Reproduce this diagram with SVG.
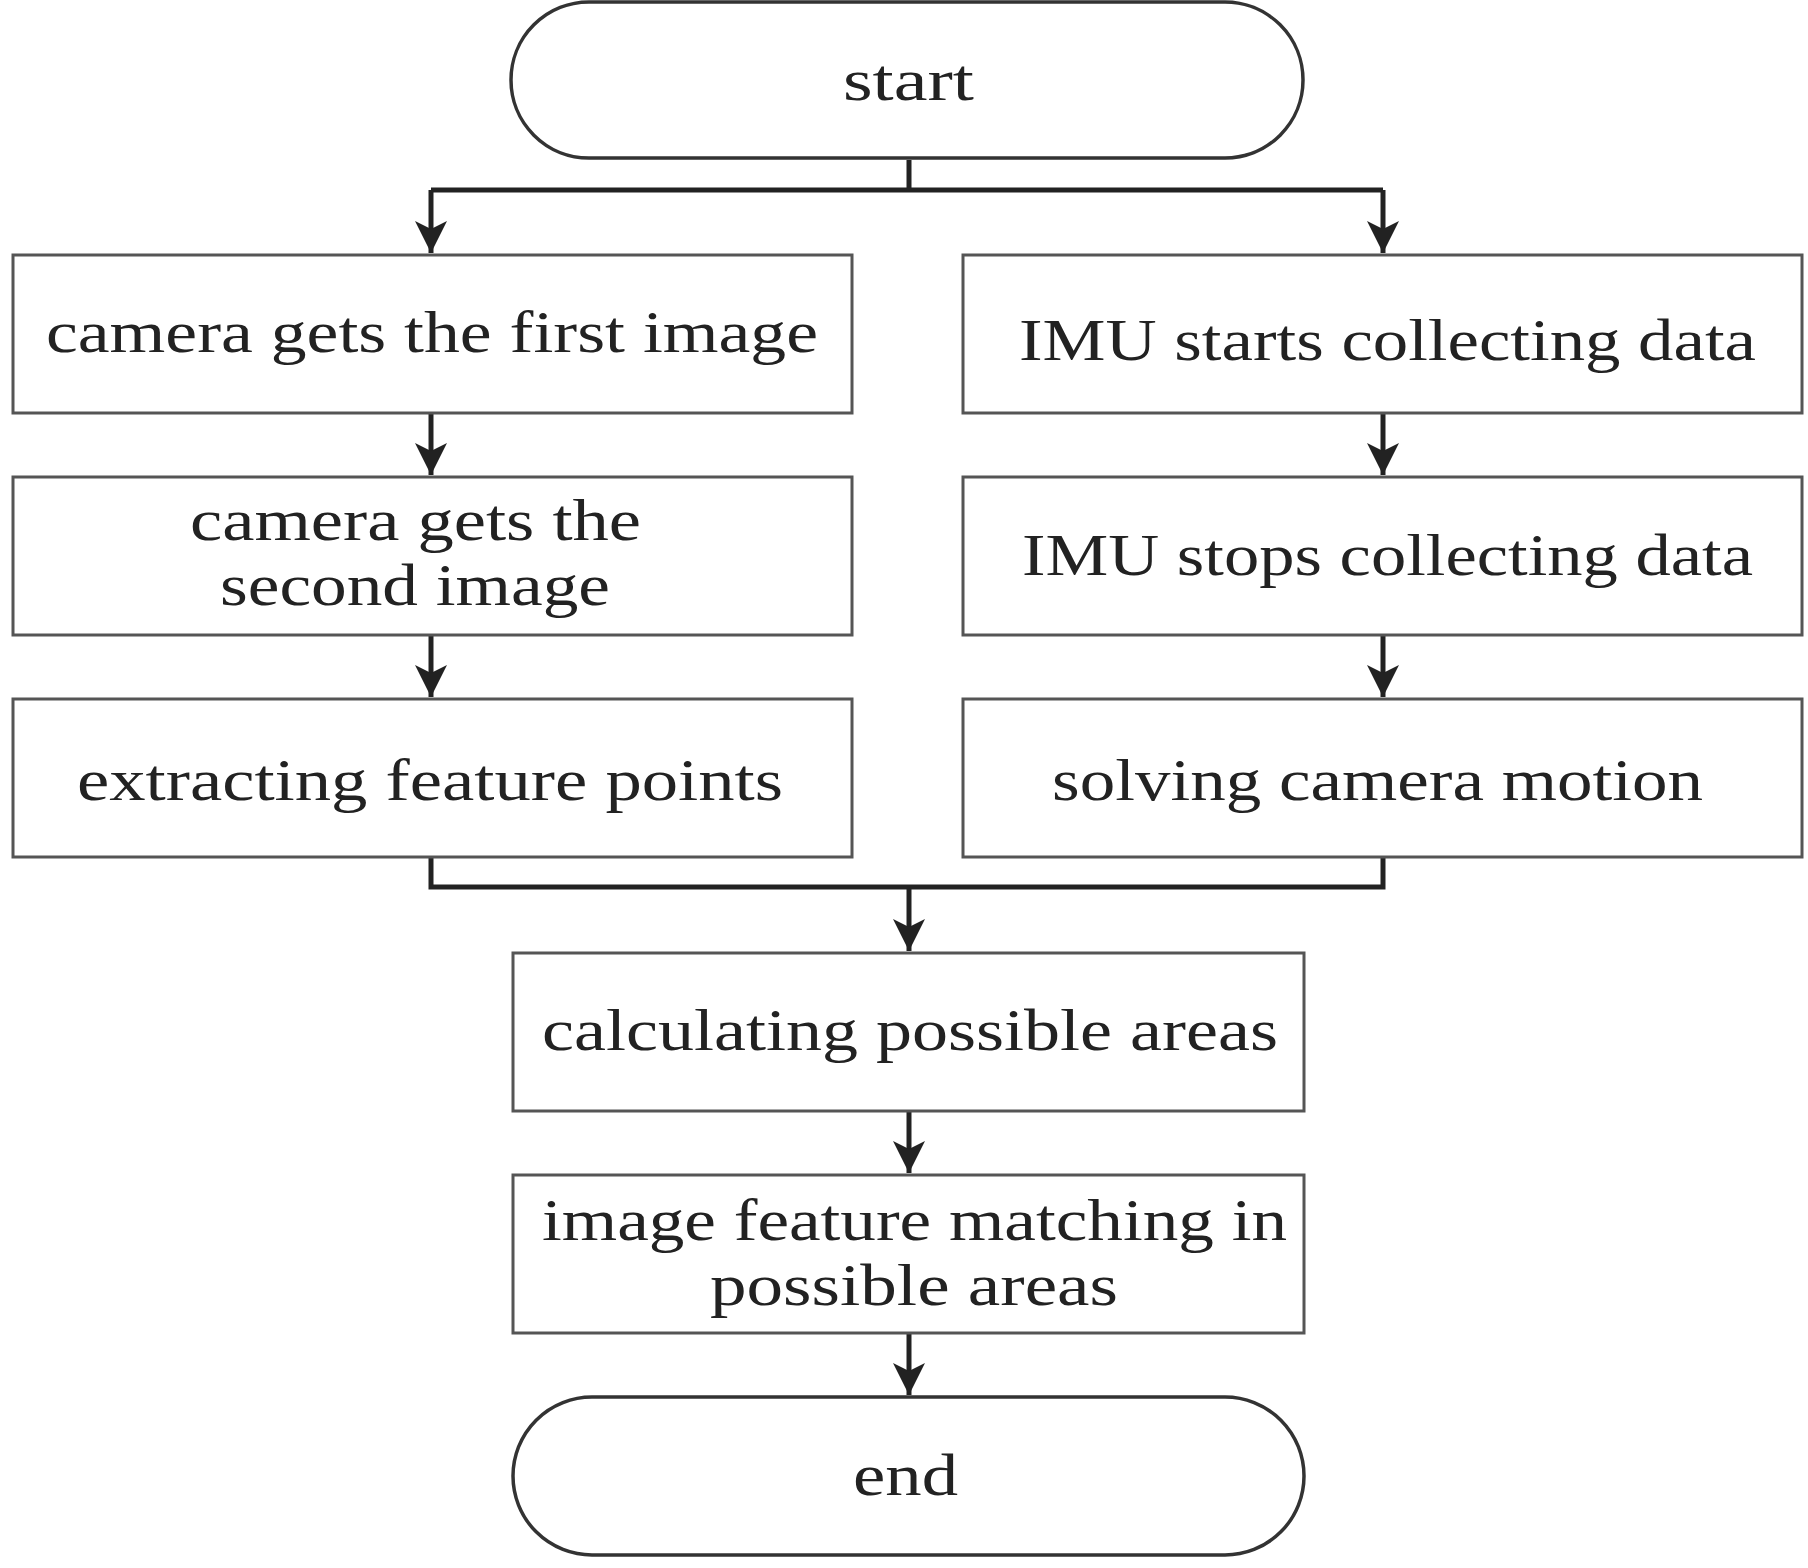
<svg xmlns="http://www.w3.org/2000/svg" width="1808" height="1568" viewBox="0 0 1808 1568">
<style>
.b{fill:#fff;stroke:#555;stroke-width:3}
.t{stroke:#333;stroke-width:3.5;fill:#fff}
text{font-family:"Liberation Serif",serif;font-size:60px;fill:#222}
.c{fill:none;stroke:#222;stroke-width:5}
</style>
<defs><marker id="a" markerUnits="userSpaceOnUse" markerWidth="32" markerHeight="36" refX="32" refY="16" orient="auto"><path d="M0,0 L32,16 L0,32 L8,16 Z" fill="#222"/></marker></defs>
<rect width="1808" height="1568" fill="#fff"/>
<g id="connectors">
<path class="c" d="M909,160 V190 M431,190 H1383"/>
<path class="c" d="M431,190 V253" marker-end="url(#a)"/>
<path class="c" d="M1383,190 V253" marker-end="url(#a)"/>
<path class="c" d="M431,413 V475" marker-end="url(#a)"/>
<path class="c" d="M1383,413 V475" marker-end="url(#a)"/>
<path class="c" d="M431,635 V697" marker-end="url(#a)"/>
<path class="c" d="M1383,635 V697" marker-end="url(#a)"/>
<path class="c" d="M431,857 V887 H1383 V857"/>
<path class="c" d="M909,887 V951" marker-end="url(#a)"/>
<path class="c" d="M909,1111 V1173" marker-end="url(#a)"/>
<path class="c" d="M909,1333 V1395" marker-end="url(#a)"/>
</g>
<g id="start"><rect class="t" x="511" y="2" width="792" height="156" rx="78"/><text x="843" y="100" textLength="131" lengthAdjust="spacingAndGlyphs">start</text></g>
<g id="n1"><rect class="b" x="13" y="255" width="839" height="158"/><text x="46" y="352" textLength="772" lengthAdjust="spacingAndGlyphs">camera gets the first image</text></g>
<g id="n2"><rect class="b" x="963" y="255" width="839" height="158"/><text x="1019" y="360" textLength="737" lengthAdjust="spacingAndGlyphs">IMU starts collecting data</text></g>
<g id="n3"><rect class="b" x="13" y="477" width="839" height="158"/><text x="190" y="540" textLength="451" lengthAdjust="spacingAndGlyphs">camera gets the</text><text x="220" y="605" textLength="390" lengthAdjust="spacingAndGlyphs">second image</text></g>
<g id="n4"><rect class="b" x="963" y="477" width="839" height="158"/><text x="1022" y="575" textLength="731" lengthAdjust="spacingAndGlyphs">IMU stops collecting data</text></g>
<g id="n5"><rect class="b" x="13" y="699" width="839" height="158"/><text x="77" y="800" textLength="706" lengthAdjust="spacingAndGlyphs">extracting feature points</text></g>
<g id="n6"><rect class="b" x="963" y="699" width="839" height="158"/><text x="1052" y="800" textLength="651" lengthAdjust="spacingAndGlyphs">solving camera motion</text></g>
<g id="n7"><rect class="b" x="513" y="953" width="791" height="158"/><text x="542" y="1050" textLength="736" lengthAdjust="spacingAndGlyphs">calculating possible areas</text></g>
<g id="n8"><rect class="b" x="513" y="1175" width="791" height="158"/><text x="542" y="1240" textLength="745" lengthAdjust="spacingAndGlyphs">image feature matching in</text><text x="710" y="1305" textLength="408" lengthAdjust="spacingAndGlyphs">possible areas</text></g>
<g id="end"><rect class="t" x="513" y="1397" width="791" height="158" rx="79"/><text x="853" y="1495" textLength="105" lengthAdjust="spacingAndGlyphs">end</text></g>
</svg>
